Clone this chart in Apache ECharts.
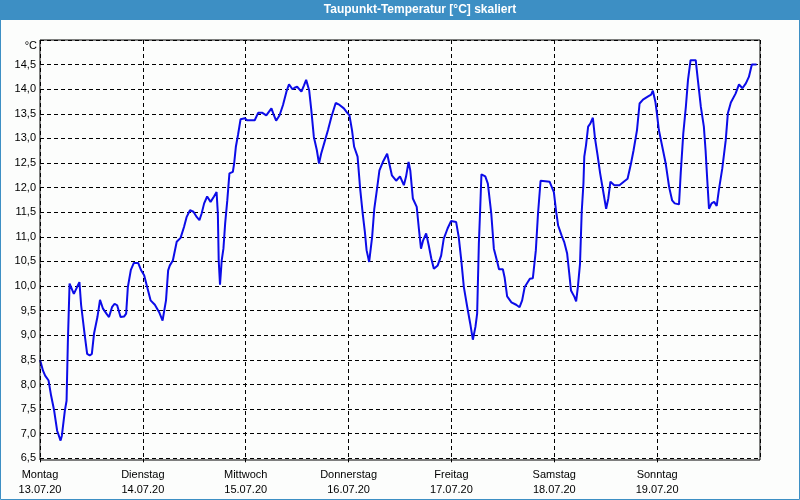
<!DOCTYPE html>
<html>
<head>
<meta charset="utf-8">
<script src="https://cdn.jsdelivr.net/npm/echarts@6/dist/echarts.min.js"></script>
<style>
html,body{margin:0;padding:0;background:#fcfdfc;}
#c{width:800px;height:500px;}
</style>
</head>
<body>
<div id="c"></div>
<script>
const titleText = 'Taupunkt-Temperatur [°C] skaliert';
const unitText = '°C';
const dayNames = ['Montag','Dienstag','Mittwoch','Donnerstag','Freitag','Samstag','Sonntag'];
const dayDates = ['13.07.20','14.07.20','15.07.20','16.07.20','17.07.20','18.07.20','19.07.20'];
// hours since Monday 00:00
const hours = [
0,0.7,1.2,2.0,2.6,3.3,4.0,4.8,5.1,5.8,6.2,6.5,6.9,7.9,8.7,9.2,9.6,10.4,11.0,11.6,12.1,12.6,13.4,14.0,14.7,15.5,16.1,16.8,17.4,18.0,18.8,19.6,20.1,20.5,21.2,21.9,22.9,23.6,
24.3,25.0,25.8,26.8,27.8,28.6,29.0,29.4,29.9,30.3,31.0,31.9,32.8,33.6,34.2,35.0,35.8,36.6,37.2,37.7,38.3,39.0,39.8,40.6,41.2,41.5,41.7,42.0,42.4,42.8,43.2,43.7,44.2,45.0,45.3,45.7,46.2,46.8,47.8,
48.3,50.1,50.9,51.9,52.8,53.2,54.0,54.5,55.1,55.9,56.7,57.5,58.1,58.9,59.4,60.0,61.0,61.6,62.1,62.8,63.3,63.9,64.6,65.1,65.6,66.4,67.2,68.0,69.0,69.9,70.9,71.7,
72.2,72.8,73.3,74.1,74.7,75.3,75.8,76.2,76.8,77.5,78.0,78.6,79.2,80.0,81.0,81.5,82.1,83.1,84.0,84.9,85.4,86.0,86.4,87.0,87.9,88.4,88.9,89.4,90.1,90.7,91.3,91.9,92.8,93.6,94.2,95.1,95.9,
97.1,97.7,98.3,98.9,99.7,100.4,101.0,101.6,102.0,102.4,102.7,103.0,103.9,104.5,105.3,105.9,106.7,107.1,108.0,108.4,109.0,110.0,111.1,111.9,112.5,113.1,114.3,115.0,115.7,116.2,116.8,117.9,118.9,
119.9,120.4,120.9,121.7,122.3,123.0,123.5,123.9,124.7,125.1,125.5,126.0,126.4,126.8,127.0,127.4,127.9,128.4,129.0,129.5,130.1,130.7,131.5,132.1,132.6,133.1,134.0,135.2,136.2,137.1,137.9,138.5,139.3,139.9,140.7,141.8,142.6,143.0,143.6,
143.9,144.4,145.2,146.0,146.8,147.5,148.1,149.1,149.5,150.1,150.7,151.2,151.8,153.0,153.5,154.2,154.9,155.3,155.7,156.1,156.7,157.3,157.9,158.4,159.2,160.0,160.5,161.2,162.3,163.1,163.9,164.7,165.4,166.1,167.2
];
const dewPoint = [
8.50,8.28,8.18,8.08,7.77,7.47,7.06,6.86,6.96,7.47,7.67,8.86,10.05,9.84,9.99,10.08,9.61,9.03,8.62,8.59,8.62,9.03,9.37,9.72,9.54,9.44,9.37,9.57,9.64,9.61,9.37,9.38,9.44,9.98,10.33,10.47,10.47,10.32,
10.22,9.98,9.71,9.62,9.47,9.30,9.27,9.71,10.32,10.42,10.52,10.90,10.98,11.20,11.40,11.54,11.51,11.40,11.34,11.47,11.68,11.82,11.71,11.82,11.91,11.47,10.52,10.03,10.52,10.76,11.27,11.74,12.29,12.32,12.49,12.83,13.07,13.39,13.41,
13.37,13.37,13.52,13.52,13.47,13.49,13.61,13.49,13.36,13.47,13.68,13.95,14.10,14.00,14.03,14.05,13.95,14.08,14.19,13.98,13.58,13.03,12.76,12.49,12.69,12.93,13.17,13.44,13.72,13.68,13.61,13.52,
13.47,13.17,12.83,12.63,11.98,11.47,11.10,10.73,10.49,11.00,11.57,11.95,12.35,12.52,12.69,12.49,12.25,12.14,12.23,12.05,12.22,12.52,12.35,11.78,11.61,11.17,10.76,10.93,11.07,10.83,10.56,10.35,10.42,10.62,10.96,11.17,11.32,
11.30,11.00,10.52,9.98,9.57,9.23,8.91,9.17,9.44,10.86,11.54,12.27,12.23,12.08,11.47,10.76,10.49,10.34,10.34,10.18,9.79,9.67,9.62,9.57,9.71,9.98,10.15,10.16,10.73,11.47,12.14,12.13,12.12,
11.91,11.54,11.23,11.03,10.90,10.66,10.25,9.91,9.78,9.69,9.98,10.45,11.51,12.08,12.63,12.86,13.24,13.30,13.42,13.00,12.66,12.29,11.88,11.57,11.78,12.12,12.05,12.05,12.12,12.18,12.49,12.76,13.17,13.71,13.79,13.85,13.89,13.97,13.74,
13.54,13.17,12.83,12.49,12.01,11.74,11.68,11.66,12.29,13.10,13.64,14.19,14.59,14.59,14.19,13.64,13.24,12.76,12.15,11.57,11.68,11.71,11.63,11.95,12.39,12.96,13.51,13.73,13.91,14.10,14.02,14.12,14.25,14.50,14.50
];
const yMin = 6.5, yMax = 15, yStep = 0.5;
const xMin = 0, xMax = 168, xStep = 24;

const FONT = 'Liberation Sans';
const chart = echarts.init(document.getElementById('c'), null, {renderer:'canvas'});
const data = hours.map((h,i)=>[h, dewPoint[i]]);
const dash = [4,3];
chart.setOption({
  animation:false,
  backgroundColor:'#fcfdfc',
  graphic:[
    {type:'rect', z:100, shape:{x:0,y:0,width:800,height:20}, style:{fill:'#3d8fc4'}},
    {type:'rect', z:100, shape:{x:0.5,y:0.5,width:799,height:499}, style:{fill:null, stroke:'#3d8fc4', lineWidth:1}},
    {type:'text', z:101, x:420, y:10, style:{text:titleText, fill:'#ffffff', font:'bold 12px "Liberation Sans"', textAlign:'center', textVerticalAlign:'middle'}},
    {type:'text', z:101, x:37, y:46, style:{text:unitText, fill:'#000', font:'11px "Liberation Sans"', textAlign:'right', textVerticalAlign:'middle'}}
  ],
  grid:[
    {left:40, top:40, width:720, height:418.3, show:false},
    {left:40, top:40, width:720, height:420, show:true, borderColor:'#000', borderWidth:1, backgroundColor:'transparent', z:5}
  ],
  xAxis:[
    {type:'value', gridIndex:0, min:xMin, max:xMax, interval:xStep,
     axisLine:{show:false},
     axisTick:{show:true, inside:false, length:6, lineStyle:{color:'#000', type:dash}},
     splitLine:{show:true, lineStyle:{color:'#000', width:1, type:dash}},
     axisLabel:{show:true, margin:9, showMaxLabel:false, color:'#000', fontFamily:FONT, fontSize:11, lineHeight:15,
       formatter:function(v){const i=Math.round(v/xStep); if(i>=dayNames.length) return ''; return dayNames[i]+'\n'+dayDates[i];}}},
    {type:'value', gridIndex:1, min:0, max:1, show:false}
  ],
  yAxis:[
    {type:'value', gridIndex:0, min:yMin, max:yMax, interval:yStep,
     axisLine:{show:false}, axisTick:{show:false},
     splitLine:{show:true, lineStyle:{color:'#000', width:1, type:dash}},
     axisLabel:{show:true, margin:4, color:'#000', fontFamily:FONT, fontSize:11,
       formatter:function(v){ if(v>=yMax-1e-9) return ''; return v.toFixed(1).replace('.',','); }}},
    {type:'value', gridIndex:1, min:0, max:1, show:false}
  ],
  series:[
    {type:'line', xAxisIndex:0, yAxisIndex:0, data:data, showSymbol:false, symbol:'none',
     lineStyle:{color:'#0c0ce8', width:2}, clip:false}
  ]
});
</script>
</body>
</html>
